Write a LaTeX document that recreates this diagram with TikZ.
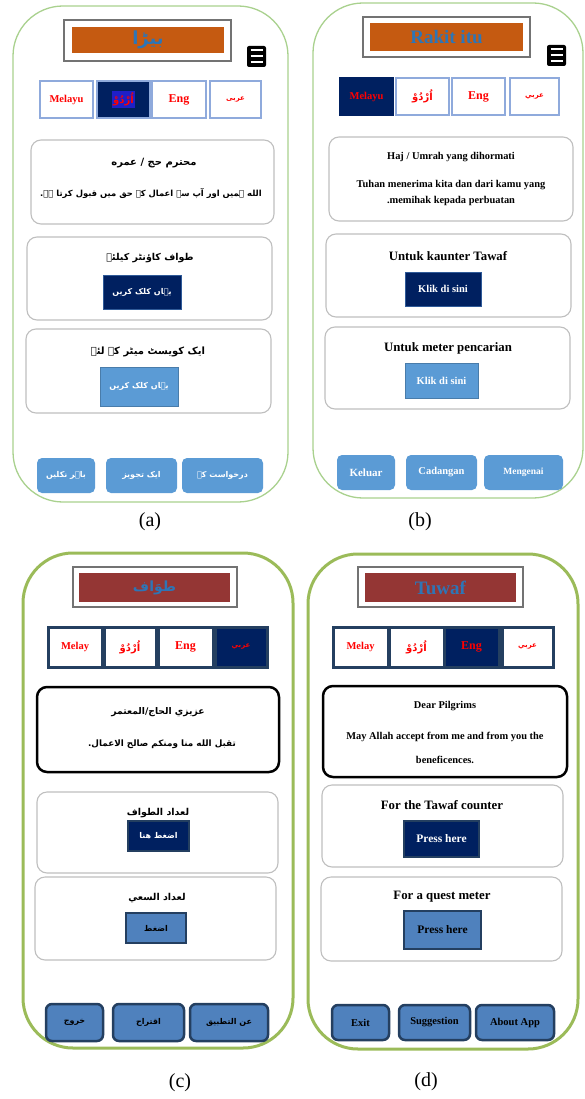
\documentclass[tikz,border=0pt]{standalone}
\usepackage{fontspec}
\setmainfont{Liberation Serif}
\newfontfamily\arabicfont[Script=Arabic]{DejaVu Sans}
\TeXXeTstate=1
\usetikzlibrary{calc}
\definecolor{navy}{HTML}{002060}
\definecolor{orng}{HTML}{C55A11}
\definecolor{brwn}{HTML}{943634}
\definecolor{ttlblue}{HTML}{2E75B6}
\definecolor{lightbtn}{HTML}{5B9BD5}
\definecolor{midbtn}{HTML}{4F81BD}
\definecolor{darkbd}{HTML}{243F60}
\definecolor{langbd}{HTML}{8FAADC}
\definecolor{greenA}{HTML}{A9D18E}
\definecolor{greenC}{HTML}{9BBB59}
\definecolor{cardgray}{HTML}{BFBFBF}
\definecolor{hlblue}{HTML}{1F1FC8}
\newcommand\artxt[1]{{\arabicfont\bfseries\beginR #1\endR}}
\newcommand\uibox[7]{\node[#2, minimum width={#5pt-#3pt}, minimum height={#6pt-#4pt}, inner sep=0pt] (#1) at ({(#3+#5)/2},{(#4+#6)/2}) {#7};}
\tikzset{
  phoneA/.style={draw=greenA, line width=1.3pt, rounded corners=50pt},
  phoneC/.style={draw=greenC, line width=3pt, rounded corners=50pt},
  titleframe/.style={draw=black!55, line width=1.3pt, fill=white},
  ham/.style={fill=black, rounded corners=2pt},
  langA/.style={draw=langbd, line width=1.3pt, fill=white, text=red, font=\bfseries\fontsize{10.5}{12}\selectfont},
  langC/.style={draw=darkbd, line width=3pt, fill=white, text=red, font=\bfseries\fontsize{10.5}{12}\selectfont},
  card/.style={draw=cardgray, line width=1.1pt, rounded corners=10pt, fill=white},
  msgC/.style={draw=black, line width=2.5pt, rounded corners=10pt, fill=white},
  btnnavy/.style={fill=navy, draw=midbtn!60!navy, line width=0.8pt, text=white, font=\bfseries\fontsize{10.5}{12}\selectfont},
  btnlight/.style={fill=lightbtn, draw=lightbtn!80!black, line width=0.5pt, text=white, font=\bfseries\fontsize{10.5}{12}\selectfont},
  btnmidC/.style={fill=midbtn, draw=darkbd, line width=2.5pt, text=black, font=\bfseries\fontsize{10.5}{12}\selectfont},
  botA/.style={fill=lightbtn, rounded corners=5pt, text=white, font=\bfseries\fontsize{10.5}{12}\selectfont},
  botC/.style={fill=midbtn, draw=darkbd, line width=2.5pt, rounded corners=6pt, text=black, font=\bfseries\fontsize{10.5}{12}\selectfont},
  ttl/.style={text=black, font=\bfseries\fontsize{12.8}{14}\selectfont},
  msg/.style={text=black, font=\bfseries\fontsize{10.4}{12}\selectfont, align=center},
  captxt/.style={text=black, font=\fontsize{20}{24}\selectfont},
  hambar/.style={draw=white, line width=2pt}
}
\begin{document}
\begin{tikzpicture}[x=1pt,y=-1pt]
\useasboundingbox (0,0) rectangle (585,1099);
% ===================== (a) =====================
\uibox{phA}{phoneA}{13}{6}{288}{502}{}
\uibox{tA}{titleframe}{64}{20}{231}{61}{}
\uibox{tAi}{fill=orng, text=ttlblue, font=\fontsize{18}{22}\selectfont}{72}{27}{224}{53}{\artxt{بیڑا}}
\uibox{hA}{ham}{247}{46}{266}{67}{}
\foreach \dy in {-6,0,6} \draw[hambar] ([xshift=-6pt,yshift=\dy pt]hA.center) -- ([xshift=6pt,yshift=\dy pt]hA.center);
\uibox{lA1}{langA}{40}{81}{93}{118}{Melayu}
\uibox{lA2}{langA, fill=navy}{97}{81}{150}{118}{}
\node[fill=hlblue, text=red, inner sep=1.5pt, font=\fontsize{10}{12}\selectfont] (lA2t) at (lA2.center) {\artxt{اُرْدُوْ}};
\uibox{lA3}{langA, font=\bfseries\fontsize{12}{14}\selectfont}{152}{81}{206}{118}{Eng}
\uibox{lA4}{langA, font=\fontsize{7}{8}\selectfont}{210}{81}{261}{118}{\artxt{عربی}}
\uibox{mA}{card}{31}{140}{274}{224}{}
\node[msg, font=\fontsize{10}{12}\selectfont] (mA1) at (154,163) {\artxt{محترم حج / عمره}};
\node[msg, font=\fontsize{8.4}{10}\selectfont] (mA2) at (151,194) {\artxt{الله ہمیں اور آپ سے اعمال کے حق میں قبول کرتا ہے.}};
\uibox{cA2}{card}{27}{237}{272}{320}{}
\node[ttl, font=\fontsize{9.5}{12}\selectfont] (cA2t) at (150,258) {\artxt{طواف کاؤنٹر کیلئے}};
\uibox{bA2}{btnnavy, font=\fontsize{8}{10}\selectfont}{103}{275}{181}{309}{\artxt{یہاں کلک کریں}}
\uibox{cA3}{card}{26}{329}{271}{413}{}
\node[ttl, font=\fontsize{10}{12}\selectfont] (cA3t) at (148,352) {\artxt{ایک کویسٹ میٹر کے لئے}};
\uibox{bA3}{btnlight, font=\fontsize{8}{10}\selectfont}{100}{367}{178}{406}{\artxt{یہاں کلک کریں}}
\uibox{dA1}{botA, font=\fontsize{8}{10}\selectfont}{37}{458}{95}{493}{\artxt{باہر نکلیں}}
\uibox{dA2}{botA, font=\fontsize{8}{10}\selectfont}{106}{458}{177}{493}{\artxt{ایک تجویز}}
\uibox{dA3}{botA, font=\fontsize{8}{10}\selectfont}{182}{458}{263}{493}{\artxt{درخواست کے}}
\node[captxt] (capA) at (150,522) {(a)};
% ===================== (b) =====================
\uibox{phB}{phoneA}{313}{3}{583}{498}{}
\uibox{tB}{titleframe}{363}{17}{530}{57}{}
\uibox{tBi}{fill=orng, text=ttlblue, font=\bfseries\fontsize{19}{22}\selectfont}{370}{23}{523}{51}{Rakit itu}
\uibox{hB}{ham}{547}{45}{566}{66}{}
\foreach \dy in {-6,0,6} \draw[hambar] ([xshift=-6pt,yshift=\dy pt]hB.center) -- ([xshift=6pt,yshift=\dy pt]hB.center);
\uibox{lB1}{langA, fill=navy, draw=navy}{340}{78}{393}{115}{Melayu}
\uibox{lB2}{langA, font=\fontsize{10}{12}\selectfont}{396}{78}{449}{115}{\artxt{اُرْدُوْ}}
\uibox{lB3}{langA, font=\bfseries\fontsize{12}{14}\selectfont}{452}{78}{505}{115}{Eng}
\uibox{lB4}{langA, font=\fontsize{7}{8}\selectfont}{510}{78}{559}{115}{\artxt{عربي}}
\uibox{mB}{card}{329}{137}{573}{221}{}
\node[msg] (mB1) at (451,157) {Haj / Umrah yang dihormati};
\node[msg, font=\bfseries\fontsize{10.4}{17}\selectfont] (mB2) at (451,193) {Tuhan menerima kita dan dari kamu yang\\.memihak kepada perbuatan};
\uibox{cB2}{card}{326}{234}{571}{317}{}
\node[ttl] (cB2t) at (448,256) {Untuk kaunter Tawaf};
\uibox{bB2}{btnnavy}{405}{272}{481}{306}{Klik di sini}
\uibox{cB3}{card}{325}{327}{570}{409}{}
\node[ttl] (cB3t) at (448,348) {Untuk meter pencarian};
\uibox{bB3}{btnlight}{405}{363}{478}{398}{Klik di sini}
\uibox{dB1}{botA, font=\bfseries\fontsize{11}{12}\selectfont}{337}{455}{395}{490}{Keluar}
\uibox{dB2}{botA}{406}{455}{477}{490}{Cadangan}
\uibox{dB3}{botA, font=\bfseries\fontsize{9.5}{10}\selectfont}{484}{455}{563}{490}{Mengenai}
\node[captxt] (capB) at (420,522) {(b)};
% ===================== (c) =====================
\uibox{phC}{phoneC}{23}{553}{293}{1048}{}
\uibox{tC}{titleframe}{73}{567}{237}{607}{}
\uibox{tCi}{fill=brwn, text=ttlblue, font=\fontsize{14}{18}\selectfont}{79}{573}{230}{602}{\artxt{طوَاف}}
\uibox{lC1}{langC}{48}{627}{102}{667}{Melay}
\uibox{lC2}{langC, font=\fontsize{10}{12}\selectfont}{104}{627}{156}{667}{\artxt{اُرْدُوْ}}
\uibox{lC3}{langC, font=\bfseries\fontsize{12}{14}\selectfont}{158}{627}{213}{667}{Eng}
\uibox{lC4}{langC, fill=navy, font=\fontsize{7}{8}\selectfont}{215}{627}{267}{667}{\artxt{عربي}}
\uibox{mC}{msgC}{37}{687}{279}{772}{}
\node[msg, font=\fontsize{9.2}{12}\selectfont] (mC1) at (158,712) {\artxt{عزيزي الحاج/المعتمر}};
\node[msg, font=\fontsize{8.8}{12}\selectfont] (mC2) at (162,744) {\artxt{تقبل الله منا ومنكم صالح الاعمال.}};
\uibox{cC2}{card}{37}{792}{278}{873}{}
\node[ttl, font=\fontsize{9.5}{12}\selectfont] (cC2t) at (158,813) {\artxt{لعداد الطواف}};
\uibox{bC2}{btnnavy, draw=darkbd, line width=1.5pt, font=\fontsize{8}{10}\selectfont}{128}{821}{189}{851}{\artxt{اضغط هنا}}
\uibox{cC3}{card}{35}{877}{276}{960}{}
\node[ttl, font=\fontsize{9.5}{12}\selectfont] (cC3t) at (157,898) {\artxt{لعداد السعي}};
\uibox{bC3}{btnmidC, font=\fontsize{8}{10}\selectfont}{126}{913}{186}{943}{\artxt{اضغط}}
\uibox{dC1}{botC, font=\fontsize{8}{10}\selectfont}{46}{1004}{103}{1041}{\artxt{خروج}}
\uibox{dC2}{botC, font=\fontsize{8}{10}\selectfont}{113}{1004}{184}{1041}{\artxt{اقتراح}}
\uibox{dC3}{botC, font=\fontsize{8}{10}\selectfont}{190}{1004}{268}{1041}{\artxt{عن التطبيق}}
\node[captxt] (capC) at (180,1083) {(c)};
% ===================== (d) =====================
\uibox{phD}{phoneC}{308}{554}{578}{1049}{}
\uibox{tD}{titleframe}{358}{567}{523}{607}{}
\uibox{tDi}{fill=brwn, text=ttlblue, font=\bfseries\fontsize{19}{22}\selectfont}{365}{573}{516}{602}{Tuwaf}
\uibox{lD1}{langC}{333}{627}{388}{667}{Melay}
\uibox{lD2}{langC, font=\fontsize{10}{12}\selectfont}{389}{627}{444}{667}{\artxt{اُرْدُوْ}}
\uibox{lD3}{langC, fill=navy, font=\bfseries\fontsize{12}{14}\selectfont}{444}{627}{499}{667}{Eng}
\uibox{lD4}{langC, font=\fontsize{7}{8}\selectfont}{502}{627}{553}{667}{\artxt{عربي}}
\uibox{mD}{msgC}{323}{686}{567}{777}{}
\node[msg] (mD1) at (445,706) {Dear Pilgrims};
\node[msg] (mD2) at (445,737) {May Allah accept from me and from you the};
\node[msg] (mD3) at (445,760) {beneficences.};
\uibox{cD2}{card}{322}{785}{563}{867}{}
\node[ttl] (cD2t) at (442,805) {For the Tawaf counter};
\uibox{bD2}{btnnavy, draw=darkbd, line width=1.5pt, font=\bfseries\fontsize{11.5}{13}\selectfont}{404}{821}{479}{857}{Press here}
\uibox{cD3}{card}{321}{877}{562}{961}{}
\node[ttl] (cD3t) at (442,897) {For a quest meter};
\uibox{bD3}{btnmidC, font=\bfseries\fontsize{11.5}{13}\selectfont}{404}{911}{481}{949}{Press here}
\uibox{dD1}{botC}{332}{1005}{389}{1040}{Exit}
\uibox{dD2}{botC}{399}{1005}{470}{1040}{Suggestion}
\uibox{dD3}{botC}{476}{1005}{554}{1040}{About App}
\node[captxt] (capD) at (426,1082) {(d)};
\end{tikzpicture}
\end{document}
